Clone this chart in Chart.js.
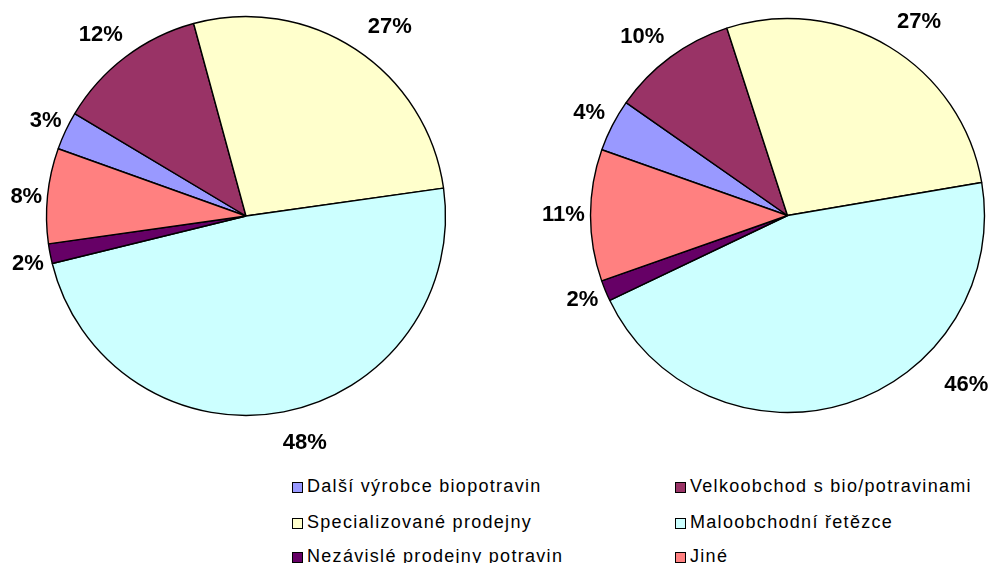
<!DOCTYPE html>
<html>
<head>
<meta charset="utf-8">
<script src="https://cdn.jsdelivr.net/npm/chart.js@4.4.0/dist/chart.umd.min.js"></script>
<style>
  body { margin: 0; background: #fff; width: 990px; height: 563px; overflow: hidden; position: relative; }
  canvas { position: absolute; top: 0; }
  #leftPie { left: 0; }
  #rightPie { left: 495px; }
  .legend-item { position: absolute; font-family: "Liberation Sans", Arial, sans-serif; font-size: 18px; color: #000; white-space: nowrap; letter-spacing: 1.3px; }
  .legend-box { position: absolute; width: 9px; height: 9px; border: 1px solid #000; }
  .legend-text { position: absolute; left: 15px; top: -6px; line-height: 20px; }
</style>
</head>
<body>
<canvas id="leftPie" width="492" height="470"></canvas>
<canvas id="rightPie" width="495" height="470"></canvas>
<div id="legend"></div>
<script>
// categories and shares (percent)
const categories = [
    "Další výrobce biopotravin",
    "Velkoobchod s bio/potravinami",
    "Specializované prodejny",
    "Maloobchodní řetězce",
    "Nezávislé prodejny potravin",
    "Jiné"
];
const leftValues = [3.1, 12.2, 27.0, 48.4, 1.6, 7.7];
const rightValues = [4.3, 10.3, 27.3, 45.6, 1.7, 10.8];
const sliceColors = ["#9999FF", "#993366", "#FFFFCC", "#CCFFFF", "#660066", "#FF8080"];

/* Percent labels outside the slices, placed from the arc geometry */
const outsideLabels = {
    id: "outsideLabels",
    afterDatasetsDraw(chart, args, opts) {
        const ctx = chart.ctx;
        const data = chart.data.datasets[0].data;
        const total = data.reduce((a, b) => a + b, 0);
        const meta = chart.getDatasetMeta(0);
        ctx.save();
        ctx.font = "bold 22px 'Liberation Sans', Arial, sans-serif";
        ctx.fillStyle = "#000";
        ctx.textAlign = "center";
        ctx.textBaseline = "middle";
        meta.data.forEach((arc, i) => {
            const mid = (arc.startAngle + arc.endAngle) / 2 + (opts.shift[i] || 0) * Math.PI / 180;
            const dist = arc.outerRadius + opts.gap[i];
            const x = arc.x + Math.cos(mid) * dist;
            const y = arc.y + Math.sin(mid) * dist;
            ctx.fillText(Math.round(data[i] / total * 100) + "%", x, y);
        });
        ctx.restore();
    }
};

function makePie(id, values, rotation, radius, padding, shift, gap) {
    const ctx = document.getElementById(id).getContext("2d");
    return new Chart(ctx, {
        type: "pie",
        data: {
            labels: categories,
            datasets: [{
                data: values,
                backgroundColor: sliceColors,
                borderColor: "#000",
                borderWidth: 1.4,
                hoverOffset: 0
            }]
        },
        options: {
            responsive: false,
            animation: false,
            rotation: rotation,
            radius: radius,
            layout: { padding: padding },
            plugins: {
                legend: { display: false },
                tooltip: { enabled: false },
                outsideLabels: { shift, gap }
            }
        },
        plugins: [outsideLabels]
    });
}

makePie("leftPie", leftValues, -70.3, 199.5,
    { left: 0, right: 0, top: 0, bottom: 38 },
    [0, -1.5, 3.9, -3.6, -1.6, -1],
    [22, 33, 38, 35, 24, 21]);

makePie("rightPie", rightValues, -70.5, 197,
    { left: 90, right: 0, top: 0, bottom: 39 },
    [0, -2.7, 3, -29, 0, 0],
    [26, 33, 37, 49, 25, 27]);

// HTML legend, two columns, row-major like the original
const legendEl = document.getElementById("legend");
const colX = [292, 675];
const rowY = [482, 517.5, 552];
categories.forEach((name, i) => {
    const item = document.createElement("div");
    item.className = "legend-item";
    item.style.left = colX[i % 2] + "px";
    item.style.top = rowY[Math.floor(i / 2)] + "px";
    const box = document.createElement("div");
    box.className = "legend-box";
    box.style.background = sliceColors[i];
    const txt = document.createElement("span");
    txt.className = "legend-text";
    txt.textContent = name;
    item.appendChild(box);
    item.appendChild(txt);
    legendEl.appendChild(item);
});
</script>
</body>
</html>
